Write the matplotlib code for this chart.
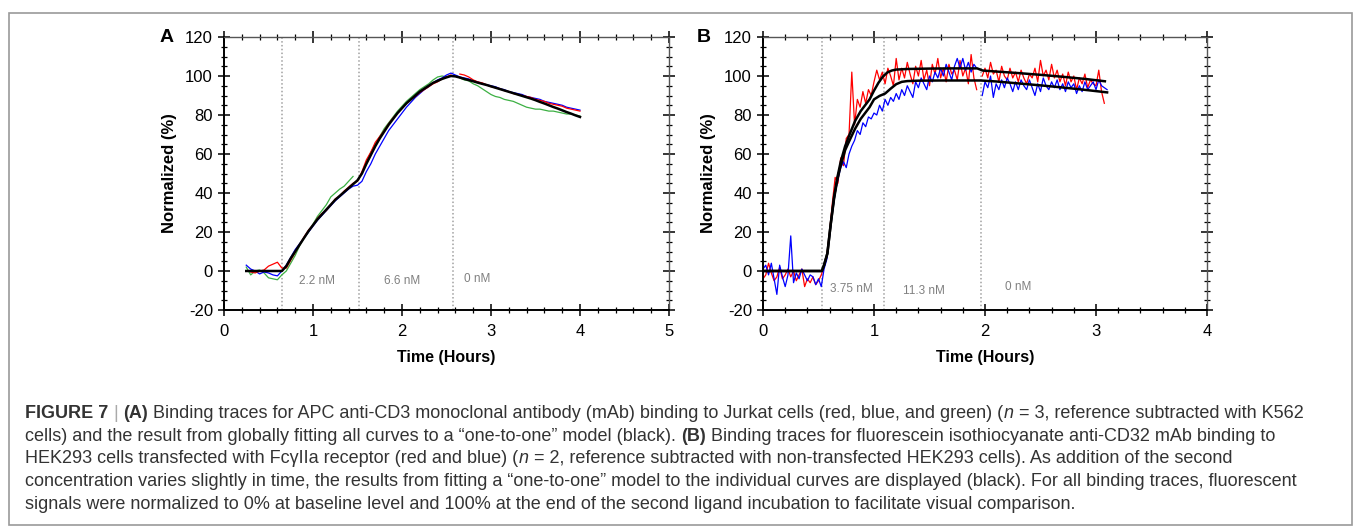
import numpy as np
import matplotlib
matplotlib.use("Agg")
import matplotlib.pyplot as plt
from matplotlib.patches import Rectangle
from matplotlib.ticker import MultipleLocator

plt.rcParams['font.family'] = ['Liberation Sans', 'DejaVu Sans']
plt.rcParams['axes.unicode_minus'] = False

# ---------------- panel A data (time in hours, normalized %) ----------------
# sampled every 0.05 h starting at 0.25 h
a_t0, a_dt = 0.25, 0.05
a_fit = [0, 0, 0, 0, 0, 0, 0, 0, 0,
         2.5, 6.5, 10, 13.5, 17, 20.5, 23.5, 26.5, 29, 31.5, 34, 36.5, 38.5, 40.5, 42.5, 44.5, 46.5,
         50, 55, 59.5, 64, 68, 71.5, 75, 78, 81, 83.5, 86, 88, 90, 92, 93.5, 95, 96.5, 97.5, 98.5, 99.3, 100,
         99.8, 99.2, 98.5, 97.9, 97.3, 96.6, 96.0, 95.4, 94.7, 94.0, 93.3, 92.6, 91.9, 91.2, 90.5, 89.8,
         89.1, 88.4, 87.6, 86.7, 85.9, 85.0, 84.1, 83.3, 82.4, 81.5, 80.7, 79.8, 79.0]
a_red = [np.nan, -0.5, -1, 0, 0.5, 2.5, 3.5, 4.5, 1.5,
         1.5, 5.5, 9.5, 13.5, 17.5, 21, 23.5, 27, 29.5, 31, 34, 37, 38.5, 41, 43, 45, 46,
         51, 57, 61, 66, 69, 72, 75.5, 78.5, 81, 83.5, 86, 88, 89.5, 91.5, 93, 94.5, 96, 97, 98.5, 99.5, 100.5,
         np.nan, 101, 100.5, 99.5, 98, 97, 96.5, 95.5, 94.5, 94, 93.5, 92.5, 92, 91, 90.5, 90,
         89.5, 89, 88, 87.5, 87, 86, 85.5, 85, 84.5, 83.5, 83, 82.5, 82]
a_blue = [3, 1, 0, -1.5, -0.5, -1, -2, -2.5, 0,
          3, 7, 11, 14, 17, 20, 23, 26, 28.5, 31, 33.5, 36, 38, 40, 42, 43.5, 44,
          46, 51, 55, 60, 64, 68, 72, 75, 78, 81, 84, 86.5, 89, 91, 93, 94.5, 96.5, 98, 99, 100.5, 101.5,
          100.5, 99.5, 99, 98.5, 97.5, 97, 96, 95.5, 95, 94.5, 93.5, 93, 92, 91.5, 91, 90.5,
          89.5, 89, 88.5, 88, 87, 86.5, 86, 85.5, 85, 84, 83.5, 83, 82.5]
a_green = [2, -2, 0, 0.5, -1, -3.5, -4, -4.5, -2,
           0, 4, 8, 13, 17, 20, 24, 28, 31, 34, 38, 40, 42, 43.5, 46, 48.5, np.nan,
           50, 56, 61, 65, 69, 73, 76, 79, 82, 84.5, 87, 89, 91, 93, 94.5, 96, 98, 99.5, 100, 99.5, 100,
           np.nan, 99, 98, 97.5, 96, 95, 93.5, 92, 90.5, 89.5, 89, 88, 87.5, 87, 86, 85,
           84, 83.5, 83, 83, 82.5, 82, 82, 81.5, 81, 80.5, 80.5, 80, 79.5]
a_steps = [0.65, 1.52, 2.57]
a_conc = ['2.2 nM', '6.6 nM', '0 nM']
a_conc_pos = [(1.05, -5), (2.0, -5), (2.85, -4)]

# ---------------- panel B data ----------------
b_fit1_t = [0.0, 0.53, 0.55, 0.58, 0.61, 0.64, 0.67, 0.70, 0.74, 0.78, 0.83, 0.88, 0.92, 0.96, 1.00,
            1.04, 1.08, 1.12, 1.16, 1.20, 1.30, 1.50, 1.70, 1.93, 1.98, 2.10, 2.30, 2.50, 2.70, 2.90, 3.08]
b_fit1 = [0, 0, 3, 9, 24, 38, 48, 56, 64, 70, 77, 82, 85, 88, 92.5,
          96.5, 99.7, 101.8, 102.8, 103.3, 103.6, 103.8, 103.9, 103.9, 102.8, 102.3, 101.5, 100.6, 99.6, 98.5, 97.3]
b_fit2_t = [0.0, 0.53, 0.55, 0.58, 0.61, 0.64, 0.67, 0.70, 0.74, 0.78, 0.83, 0.88, 0.92, 0.96, 1.00,
            1.05, 1.10, 1.15, 1.20, 1.25, 1.30, 1.40, 1.60, 1.80, 1.96, 2.10, 2.30, 2.50, 2.70, 2.90, 3.10]
b_fit2 = [0, 0, 3, 9, 24, 37, 47, 54, 62, 67, 73, 78, 81, 84, 88,
          89.8, 91, 93.5, 95.8, 97, 97.4, 97.6, 97.7, 97.7, 97.7, 97.2, 96.2, 95.2, 94.1, 92.9, 91.6]
# noisy traces sampled every 0.025 h from t = 0
b_dt = 0.025
b_red = [-4, -2, 4, -1, -5, -3, 2, -4, -2, 1, -3, 0, -5, -2, 1, -8, -4, -6, -3, -7, -5, -2,
         2, 8, 20, 35, 48, 45, 58, 54, 68, 70, 102, 75, 88, 84, 92, 86, 93, 90,
         97, 103, 98, 102, 96, 104, 100, 95, 109, 98, 104, 99, 107, 101, 96, 105,
         100, 108, 98, 103, 95, 106, 101, 109, 99, 104, 97, 106, 101, 103, 98, 108,
         100, 104, 96, 111, 99, 93, np.nan,
         100, 104, 99, 107, 101, 103, 97, 105, 100, 98, 104, 99, 102, 97, 103, 99,
         96, 101, 99, 104, 97, 108, 100, 103, 98, 106, 99, 103, 97, 101, 95, 102,
         97, 100, 93, 99, 96, 101, 94, 98, 96, 95, 103, 92, 86]
b_blue = [1, 3, -2, 4, -4, -12, 3, -3, -8, -2, 18, -6, -1, -4, 1, -2, -5, -2, -3, -7, -4, -8,
          1, 6, 18, 30, 40, 47, 53, 56, 53, 60, 64, 67, 72, 70, 76, 74, 79, 78,
          81, 80, 85, 82, 88, 85, 89, 87, 91, 88, 93, 90, 95, 92, 89, 97,
          94, 99, 96, 93, 100, 97, 102, 99, 104, 100, 106, 102, 98, 105, 109, 104,
          109, 103, 107, 102, 106, 104, np.nan,
          90, 97, 94, 100, 89, 96, 93, 98, 94, 99, 96, 92, 97, 93, 98, 95,
          93, 98, 94, 90, 96, 92, 99, 95, 93, 97, 94, 98, 93, 96, 92, 97,
          94, 96, 91, 95, 92, 97, 93, 95, 97, 93, 98, 95, 94, 93]
b_steps = [0.53, 1.09, 1.96]
b_conc = ['3.75 nM', '11.3 nM', '0 nM']
b_conc_pos = [(0.8, -9), (1.45, -10), (2.3, -8)]

# ---------------- caption (a leading space means a word gap) ----------------
caption = [
    [("FIGURE 7", "bold"), (" |", "bar"), (" (A)", "bold"),
     (" Binding traces for APC anti-CD3 monoclonal antibody (mAb) binding to Jurkat cells (red, blue, and green) (", "normal"),
     ("n", "italic"), (" = 3, reference subtracted with K562", "normal")],
    [("cells) and the result from globally fitting all curves to a \u201cone-to-one\u201d model (black).", "normal"),
     (" (B)", "bold"), (" Binding traces for fluorescein isothiocyanate anti-CD32 mAb binding to", "normal")],
    [("HEK293 cells transfected with Fc\u03b3IIa receptor (red and blue) (", "normal"), ("n", "italic"),
     (" = 2, reference subtracted with non-transfected HEK293 cells). As addition of the second", "normal")],
    [("concentration varies slightly in time, the results from fitting a \u201cone-to-one\u201d model to the individual curves are displayed (black). For all binding traces, fluorescent", "normal")],
    [("signals were normalized to 0% at baseline level and 100% at the end of the second ligand incubation to facilitate visual comparison.", "normal")],
]

fig = plt.figure(figsize=(13.58, 5.27), dpi=100)
W, H = 1358, 527

# outer frame
fig.patches.append(Rectangle((9 / W, 1 - 525 / H), 1343 / W, 512 / H, transform=fig.transFigure,
                             fill=False, edgecolor='#9a9a9a', linewidth=1.2))


def style_axes(ax, xmax):
    ax.set_xlim(0, xmax)
    ax.set_ylim(-20, 120)
    ax.xaxis.set_major_locator(MultipleLocator(1))
    ax.xaxis.set_minor_locator(MultipleLocator(0.2))
    ax.yaxis.set_major_locator(MultipleLocator(20))
    ax.yaxis.set_minor_locator(MultipleLocator(5))
    ax.tick_params(which='major', direction='inout', length=8, width=1.1, labelsize=12,
                   top=True, right=True, pad=4)
    ax.tick_params(axis='x', which='major', pad=6)
    ax.tick_params(which='minor', direction='inout', length=5, width=0.9, top=True, right=True)
    for s in ['left', 'bottom']:
        ax.spines[s].set_linewidth(1.4)
    for s in ['top', 'right']:
        ax.spines[s].set_linewidth(1.0)
        ax.spines[s].set_color('#555555')
    ax.set_xlabel('Time (Hours)', fontsize=11.5, fontweight='bold', labelpad=8)
    ax.set_ylabel('Normalized (%)', fontsize=12, fontweight='bold', labelpad=6)


axA = fig.add_axes([224 / W, 1 - 310 / H, 445 / W, 273 / H])
axB = fig.add_axes([763 / W, 1 - 310 / H, 444 / W, 273 / H])

# panel A
ta = a_t0 + a_dt * np.arange(len(a_fit))
for xs in a_steps:
    axA.axvline(xs, color='#a0a0a0', linestyle=(0, (1, 1.5)), linewidth=1.1, zorder=1)
axA.plot(ta, a_green, color='#3cb043', linewidth=0.9)
axA.plot(ta, a_blue, color='#0000ff', linewidth=0.9)
axA.plot(ta, a_red, color='#ff0000', linewidth=0.9)
axA.plot(ta, a_fit, color='black', linewidth=1.8)
for lab, (x, y) in zip(a_conc, a_conc_pos):
    axA.text(x, y, lab, fontsize=8.5, color='#808080', ha='center', va='center')
style_axes(axA, 5)

# panel B
tb = b_dt * np.arange(len(b_red))
tb2 = b_dt * np.arange(len(b_blue))
for xs in b_steps:
    axB.axvline(xs, color='#a0a0a0', linestyle=(0, (1, 1.5)), linewidth=1.1, zorder=1)
axB.plot(tb, b_red, color='#ff0000', linewidth=0.9)
axB.plot(tb2, b_blue, color='#0000ff', linewidth=0.9)
axB.plot(b_fit1_t, b_fit1, color='black', linewidth=1.8)
axB.plot(b_fit2_t, b_fit2, color='black', linewidth=1.8)
for lab, (x, y) in zip(b_conc, b_conc_pos):
    axB.text(x, y, lab, fontsize=8.5, color='#808080', ha='center', va='center')
style_axes(axB, 4)

fig.text(167 / W, 1 - 37 / H, 'A', fontsize=14, fontweight='bold', ha='center', va='center')
fig.text(704 / W, 1 - 37 / H, 'B', fontsize=14, fontweight='bold', ha='center', va='center')

# caption, drawn piece by piece so bold / italic runs sit on one line
cap_size = 13
cap_color = '#333333'
line_y = [418, 441, 463, 486, 509]
space = 3.6
for parts, yb in zip(caption, line_y):
    prev = None
    for txt, sty in parts:
        kw = dict(fontsize=cap_size, color=cap_color, ha='left')
        if sty == 'bold':
            kw['fontweight'] = 'bold'
        elif sty == 'italic':
            kw['fontstyle'] = 'italic'
        elif sty == 'bar':
            kw['color'] = '#aaaaaa'
        gap = space if txt.startswith(' ') else 0.6
        txt = txt.strip()
        if prev is None:
            prev = fig.text(25 / W, 1 - yb / H, txt, va='baseline', **kw)
        else:
            prev = fig.axes[0].annotate(txt, xy=(1, 0), xycoords=prev, xytext=(gap, 0),
                                        textcoords='offset points', va='bottom',
                                        annotation_clip=False, **kw)

fig.savefig('out.png', dpi=100)
